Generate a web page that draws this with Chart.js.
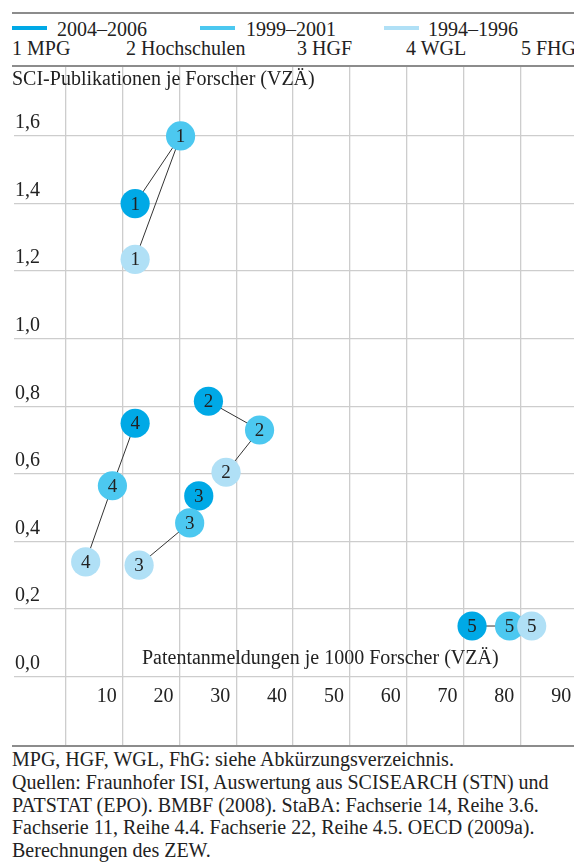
<!DOCTYPE html>
<html>
<head>
<meta charset="utf-8">
<script src="https://cdn.jsdelivr.net/npm/chart.js@4.4.1/dist/chart.umd.min.js"></script>
<style>
  html, body { margin: 0; padding: 0; background: #fff; overflow: hidden; width: 574px; height: 864px; }
  body { position: relative; font-family: 'Liberation Serif', 'Times New Roman', serif; font-size: 20px; color: #222; }
  .rule { position: absolute; left: 12px; width: 570px; height: 1.5px; background: #8c8c8c; z-index: 3; }
  .txt { position: absolute; line-height: 20px; white-space: nowrap; z-index: 2; }
  .swatch { position: absolute; height: 4px; width: 35px; top: 26px; }
  #wrap { position: absolute; left: 0; top: 66px; width: 580px; height: 680px; z-index: 1; }
  #notes { position: absolute; left: 12px; top: 748px; line-height: 22.8px; z-index: 2; }
</style>
</head>
<body>
<div class="rule" style="top:12px"></div>
<div id="legend"></div>
<div class="rule" style="top:65px"></div>
<div id="wrap"><canvas id="chart" width="580" height="680"></canvas></div>
<div class="txt" id="yTitle" style="left:12px; top:68px"></div>
<div class="txt" id="xTitle" style="left:142px; top:647px"></div>
<div class="rule" style="top:745px"></div>
<div id="notes"></div>

<script>
// Zeiträume (Legende) und Einrichtungen
const periods = ['2004–2006', '1999–2001', '1994–1996'];
const institutions = ['1 MPG', '2 Hochschulen', '3 HGF', '4 WGL', '5 FHG'];
const pointLabels = ['1', '2', '3', '4', '5'];

// Patentanmeldungen je 1000 Forscher (x) / SCI-Publikationen je Forscher (y)
const patents2004 = [12.2, 25.1, 23.4, 12.2, 71.5];
const pubs2004    = [1.40, 0.815, 0.535, 0.75, 0.15];
const patents1999 = [20.2, 34.1, 21.8, 8.2, 78.1];
const pubs1999    = [1.60, 0.73, 0.455, 0.565, 0.15];
const patents1994 = [12.2, 28.2, 12.9, 3.5, 82.0];
const pubs1994    = [1.235, 0.605, 0.33, 0.34, 0.15];

const xTicks = [0, 10, 20, 30, 40, 50, 60, 70, 80, 90];
const yTicks = [0, 0.2, 0.4, 0.6, 0.8, 1.0, 1.2, 1.4, 1.6];
const yTickLabels = ['0,0', '0,2', '0,4', '0,6', '0,8', '1,0', '1,2', '1,4', '1,6'];

const yTitle = 'SCI-Publikationen je Forscher (VZÄ)';
const xTitle = 'Patentanmeldungen je 1000 Forscher (VZÄ)';
const notes = [
  'MPG, HGF, WGL, FhG: siehe Abkürzungsverzeichnis.',
  'Quellen: Fraunhofer ISI, Auswertung aus SCISEARCH (STN) und',
  'PATSTAT (EPO). BMBF (2008). StaBA: Fachserie 14, Reihe 3.6.',
  'Fachserie 11, Reihe 4.4. Fachserie 22, Reihe 4.5. OECD (2009a).',
  'Berechnungen des ZEW.'
];

// Farben / Positionen
const colors = ['#00a9e6', '#4cc8f0', '#b0e0f6'];
const swatchX = [12, 200, 384];
const periodX = [57, 246, 428];
const instX = [12, 126, 297, 406, 521];
const FONT = "'Liberation Serif', 'Times New Roman', serif";

// --- Legende & Texte ---
const legend = document.getElementById('legend');
periods.forEach((p, i) => {
  const sw = document.createElement('div');
  sw.className = 'swatch';
  sw.style.left = swatchX[i] + 'px';
  sw.style.background = colors[i];
  legend.appendChild(sw);
  const t = document.createElement('div');
  t.className = 'txt';
  t.style.left = periodX[i] + 'px';
  t.style.top = '19px';
  t.textContent = p;
  legend.appendChild(t);
});
institutions.forEach((n, i) => {
  const t = document.createElement('div');
  t.className = 'txt';
  t.style.left = instX[i] + 'px';
  t.style.top = '38px';
  t.textContent = n;
  legend.appendChild(t);
});
document.getElementById('yTitle').textContent = yTitle;
document.getElementById('xTitle').textContent = xTitle;
document.getElementById('notes').innerHTML = notes.map(s => '<div>' + s + '</div>').join('');

// --- Datensätze ---
const series = [
  {xs: patents1994, ys: pubs1994},
  {xs: patents1999, ys: pubs1999},
  {xs: patents2004, ys: pubs2004}
];
const colorIdx = [2, 1, 0];

const datasets = [];
series.forEach((s, k) => {
  datasets.push({
    label: periods[colorIdx[k]],
    data: s.xs.map((x, i) => ({x: x, y: s.ys[i]})),
    backgroundColor: colors[colorIdx[k]],
    borderWidth: 0,
    pointRadius: 14.6,
    pointHoverRadius: 14.6,
    order: k + 1,
    isMarker: true
  });
});
// Verbindungslinien je Einrichtung: 2004 -> 1999 -> 1994
institutions.forEach((n, i) => {
  datasets.push({
    label: n,
    data: [
      {x: patents2004[i], y: pubs2004[i]},
      {x: patents1999[i], y: pubs1999[i]},
      {x: patents1994[i], y: pubs1994[i]}
    ],
    showLine: true,
    borderColor: '#333',
    borderWidth: 1,
    pointRadius: 0,
    pointHoverRadius: 0,
    order: 10
  });
});

const numberLabels = {
  id: 'numberLabels',
  afterDatasetsDraw(chart) {
    const ctx = chart.ctx;
    ctx.save();
    ctx.font = '19px ' + FONT;
    ctx.fillStyle = '#222';
    ctx.textAlign = 'center';
    ctx.textBaseline = 'middle';
    // in Zeichenreihenfolge: unterste zuerst
    for (let d = chart.data.datasets.length - 1; d >= 0; d--) {
      const ds = chart.data.datasets[d];
      if (!ds.isMarker) continue;
      chart.getDatasetMeta(d).data.forEach((el, i) => {
        ctx.fillText(pointLabels[i], el.x, el.y + 1);
      });
    }
    ctx.restore();
  }
};

// keine automatischen Ränder für Tick-Beschriftungen
const noPad = s => { s.paddingLeft = 0; s.paddingRight = 0; s.paddingTop = 0; s.paddingBottom = 0; };

new Chart(document.getElementById('chart'), {
  type: 'scatter',
  data: {datasets},
  options: {
    responsive: false,
    animation: false,
    layout: {autoPadding: false, padding: {left: 12, right: 0, top: 0, bottom: 0}},
    plugins: {legend: {display: false}, tooltip: {enabled: false}},
    scales: {
      x: {
        type: 'linear',
        position: {y: 0},
        min: -9.12,
        max: 90.5,
        afterBuildTicks: s => { s.ticks = xTicks.map(v => ({value: v})); },
        afterFit: noPad,
        grid: {color: '#cdcdcd', lineWidth: 1.3, drawTicks: false},
        border: {display: false},
        ticks: {
          align: 'end',
          labelOffset: -6,
          padding: 8,
          color: '#222',
          font: {family: FONT, size: 20},
          callback: v => (v === 0 ? '' : String(v))
        }
      },
      y: {
        type: 'linear',
        position: 'left',
        min: -0.205,
        max: 1.807,
        afterBuildTicks: s => { s.ticks = yTicks.map(v => ({value: v})); },
        afterFit: noPad,
        grid: {color: '#cdcdcd', lineWidth: 1.3, drawTicks: false},
        border: {display: false},
        ticks: {
          mirror: true,
          padding: 1,
          labelOffset: -13,
          color: '#222',
          font: {family: FONT, size: 20},
          callback: (v, i) => yTickLabels[yTicks.indexOf(Math.round(v * 10) / 10)] || ''
        }
      }
    }
  },
  plugins: [numberLabels]
});
</script>
</body>
</html>
